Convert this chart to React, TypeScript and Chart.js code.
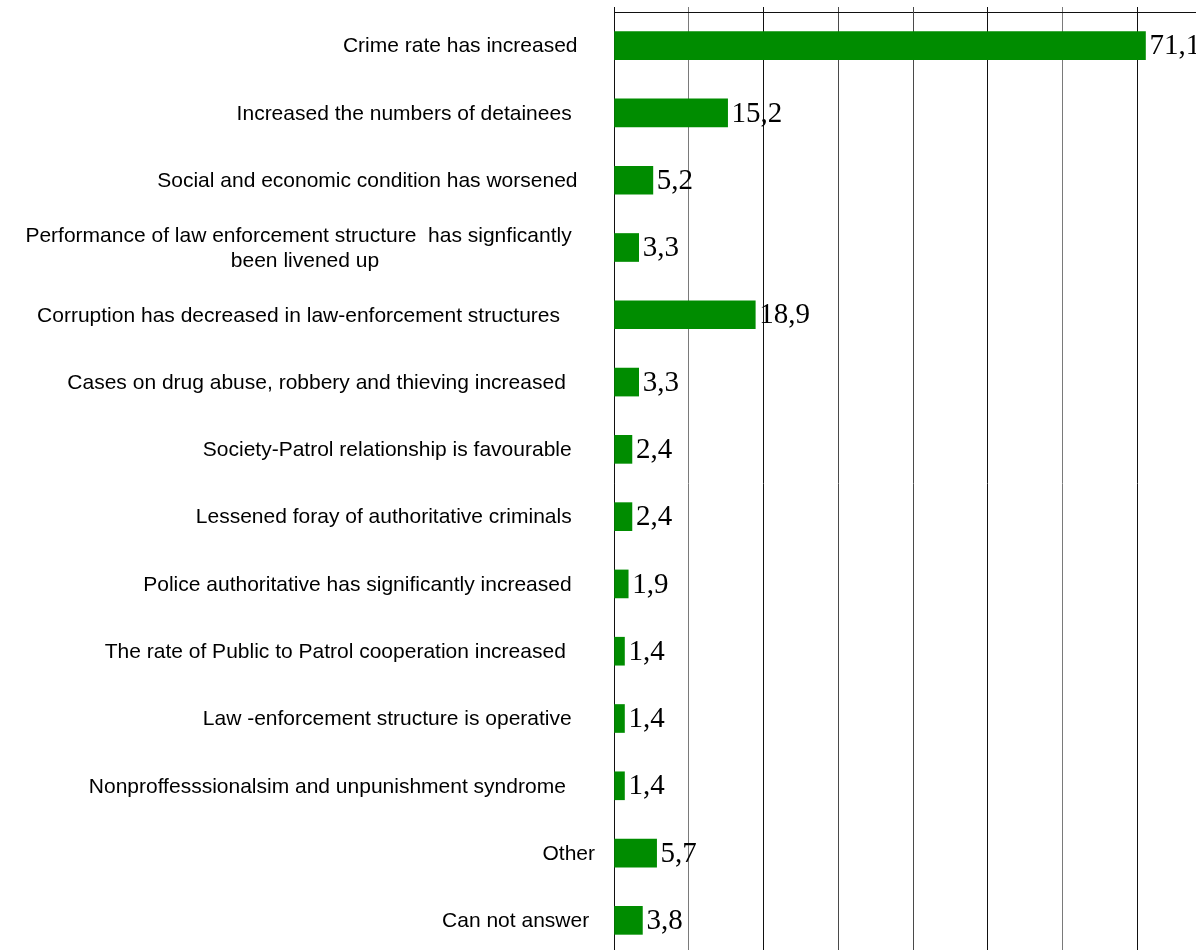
import React, { useEffect, useRef } from "react";
import { Chart, registerables } from "chart.js";

Chart.register(...registerables);

const categories: (string | string[])[] = [
  "Crime rate has increased",
  "Increased the numbers of detainees",
  "Social and economic condition has worsened",
  ["Performance of law enforcement structure  has signficantly", "been livened up"],
  "Corruption has decreased in law-enforcement structures",
  "Cases on drug abuse, robbery and thieving increased",
  "Society-Patrol relationship is favourable",
  "Lessened foray of authoritative criminals",
  "Police authoritative has significantly increased",
  "The rate of Public to Patrol cooperation increased",
  "Law -enforcement structure is operative",
  "Nonproffesssionalsim and unpunishment syndrome",
  "Other",
  "Can not answer",
];

const values: number[] = [71.1, 15.2, 5.2, 3.3, 18.9, 3.3, 2.4, 2.4, 1.9, 1.4, 1.4, 1.4, 5.7, 3.8];

const axisMin = 0;
const axisMax = 80;
const axisStep = 10;

// style only: trailing-space counts mimicking the original label alignment
const labelTrail = [3, 4, 3, 4, 6, 5, 4, 4, 4, 5, 4, 5, 0, 1];
const secondLineTrail = 37;
// style only: gridline shades (the original's anti-aliasing look)
const gridShades = ["#111", "#7a7a7a", "#111", "#4a4a4a", "#4a4a4a", "#111", "#7a7a7a", "#111", "#4a4a4a"];

const valueLabelPlugin = {
  id: "valueLabels",
  afterDatasetsDraw(chart: any) {
    const ctx = chart.ctx;
    const meta = chart.getDatasetMeta(0);
    const data = chart.data.datasets[0].data as number[];
    ctx.save();
    ctx.font = '29px "Liberation Serif", "Times New Roman", serif';
    ctx.fillStyle = "#000";
    ctx.textAlign = "left";
    ctx.textBaseline = "middle";
    meta.data.forEach((bar: any, i: number) => {
      const txt = data[i].toFixed(1).replace(".", ",");
      ctx.fillText(txt, bar.x + 4, bar.y + 1);
    });
    ctx.restore();
  },
};

export default function App() {
  const canvasRef = useRef<HTMLCanvasElement | null>(null);

  useEffect(() => {
    if (!canvasRef.current) return;
    const chart = new Chart(canvasRef.current, {
      type: "bar",
      data: {
        labels: categories as any,
        datasets: [
          {
            data: values,
            backgroundColor: "#008c00",
            borderWidth: 0,
            barThickness: 28,
          },
        ],
      },
      options: {
        indexAxis: "y",
        animation: false,
        responsive: true,
        maintainAspectRatio: false,
        layout: { padding: 0 },
        plugins: {
          legend: { display: false },
          tooltip: { enabled: false },
          title: { display: false },
        },
        scales: {
          x: {
            type: "linear",
            position: "top",
            min: axisMin,
            max: axisMax,
            ticks: { stepSize: axisStep, display: false },
            grid: {
              display: true,
              color: (c: any) => gridShades[c.index % gridShades.length],
              lineWidth: 1,
              drawTicks: true,
              tickLength: 5,
            },
            border: { display: true, color: "#111", width: 1 },
            afterFit: (scale: any) => {
              scale.height = 12;
              scale.paddingLeft = 0;
              scale.paddingRight = 0;
            },
          },
          y: {
            type: "category",
            grid: { display: false, drawTicks: false },
            border: { display: true, color: "#111", width: 1 },
            ticks: {
              color: "#000",
              padding: 19,
              labelOffset: 1,
              autoSkip: false,
              font: { family: '"Liberation Sans", Arial, sans-serif', size: 21 },
              callback: function (this: any, value: any, index: number) {
                const lab = categories[index];
                const trail = " ".repeat(labelTrail[index] || 0);
                if (Array.isArray(lab)) {
                  return [lab[0] + trail, lab[1] + " ".repeat(secondLineTrail)];
                }
                return lab + trail;
              },
            },
            afterFit: (scale: any) => {
              scale.width = 614;
              scale.paddingTop = 0;
              scale.paddingBottom = 0;
            },
          },
        },
      },
      plugins: [valueLabelPlugin],
    });
    return () => chart.destroy();
  }, []);

  return (
    <div
      style={{
        position: "absolute",
        left: 0,
        top: 0,
        width: 1196,
        height: 950,
        overflow: "hidden",
        background: "#fff",
      }}
    >
      <div style={{ position: "relative", width: 1212, height: 954 }}>
        <canvas ref={canvasRef} />
      </div>
    </div>
  );
}
